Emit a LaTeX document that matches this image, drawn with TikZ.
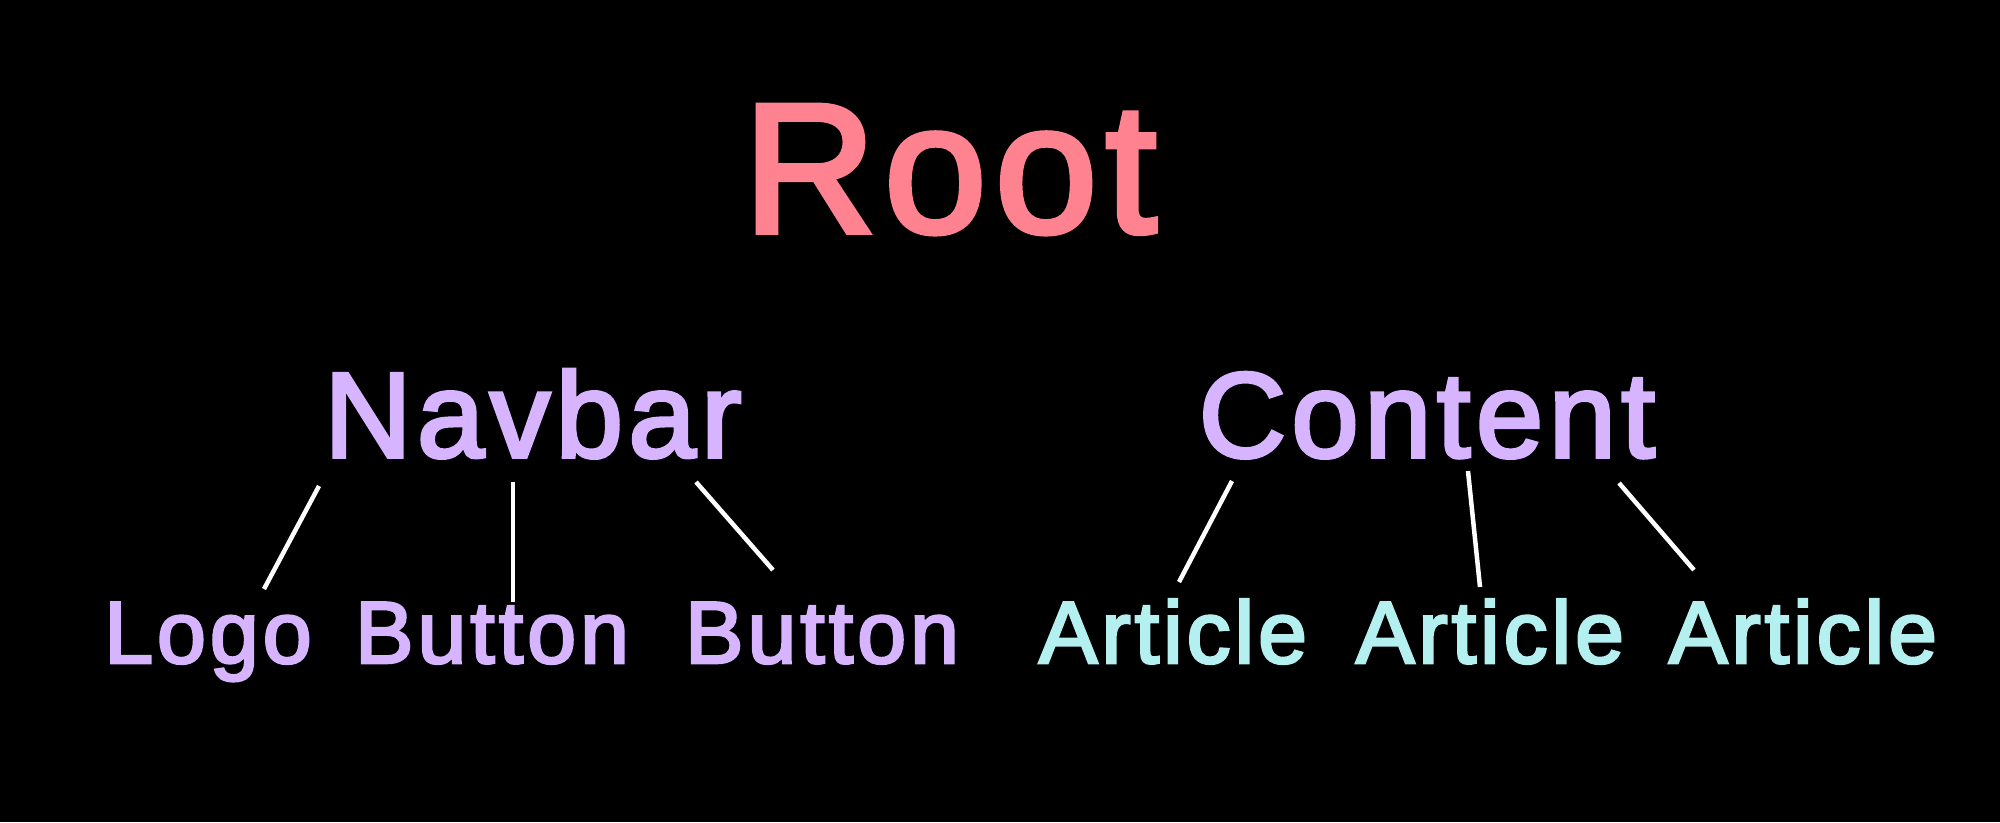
\documentclass[tikz,border=0pt]{standalone}
\usepackage{fontspec}
\newfontfamily\medfont{Liberation Sans}[FakeBold=3,LetterSpace=4.5]
\definecolor{rootc}{RGB}{255,130,145}
\definecolor{purp}{RGB}{214,180,255}
\definecolor{cyanc}{RGB}{180,240,240}
\begin{document}
\begin{tikzpicture}[x=1pt,y=-1pt,
  lbl/.style={inner sep=0pt,anchor=base},
  rootlbl/.style={lbl,text=rootc,font=\medfont\fontsize{184}{190}\selectfont},
  midlbl/.style={lbl,text=purp,font=\medfont\fontsize{121}{125}\selectfont},
  leaflbl/.style={lbl,font=\medfont\fontsize{88}{92}\selectfont},
  edge/.style={draw=white,line width=4.5pt}]
\fill[black] (0,0) rectangle (2000,822);
\useasboundingbox (0,0) rectangle (2000,822);
\node[rootlbl] (root) at (950,232) {Root};
\node[midlbl] (navbar) at (533,457) {Navbar};
\node[midlbl] (content) at (1427,457) {Content};
\node[leaflbl,text=purp] (logo) at (208,663) {Logo};
\node[leaflbl,text=purp] (button1) at (492,663) {Button};
\node[leaflbl,text=purp] (button2) at (822,663) {Button};
\node[leaflbl,text=cyanc] (article1) at (1173,663) {Article};
\node[leaflbl,text=cyanc] (article2) at (1490,663) {Article};
\node[leaflbl,text=cyanc] (article3) at (1803,663) {Article};
\coordinate (n1) at (319,486); \coordinate (g1) at (264,589);
\coordinate (n2) at (513,482); \coordinate (g2) at (513,602);
\coordinate (n3) at (696,482); \coordinate (g3) at (773,570);
\coordinate (c1) at (1232,481); \coordinate (a1) at (1179,582);
\coordinate (c2) at (1468,471); \coordinate (a2) at (1480,587);
\coordinate (c3) at (1619,483); \coordinate (a3) at (1694,570);
\draw[edge] (n1) -- (g1);
\draw[edge] (n2) -- (g2);
\draw[edge] (n3) -- (g3);
\draw[edge] (c1) -- (a1);
\draw[edge] (c2) -- (a2);
\draw[edge] (c3) -- (a3);
\end{tikzpicture}
\end{document}
